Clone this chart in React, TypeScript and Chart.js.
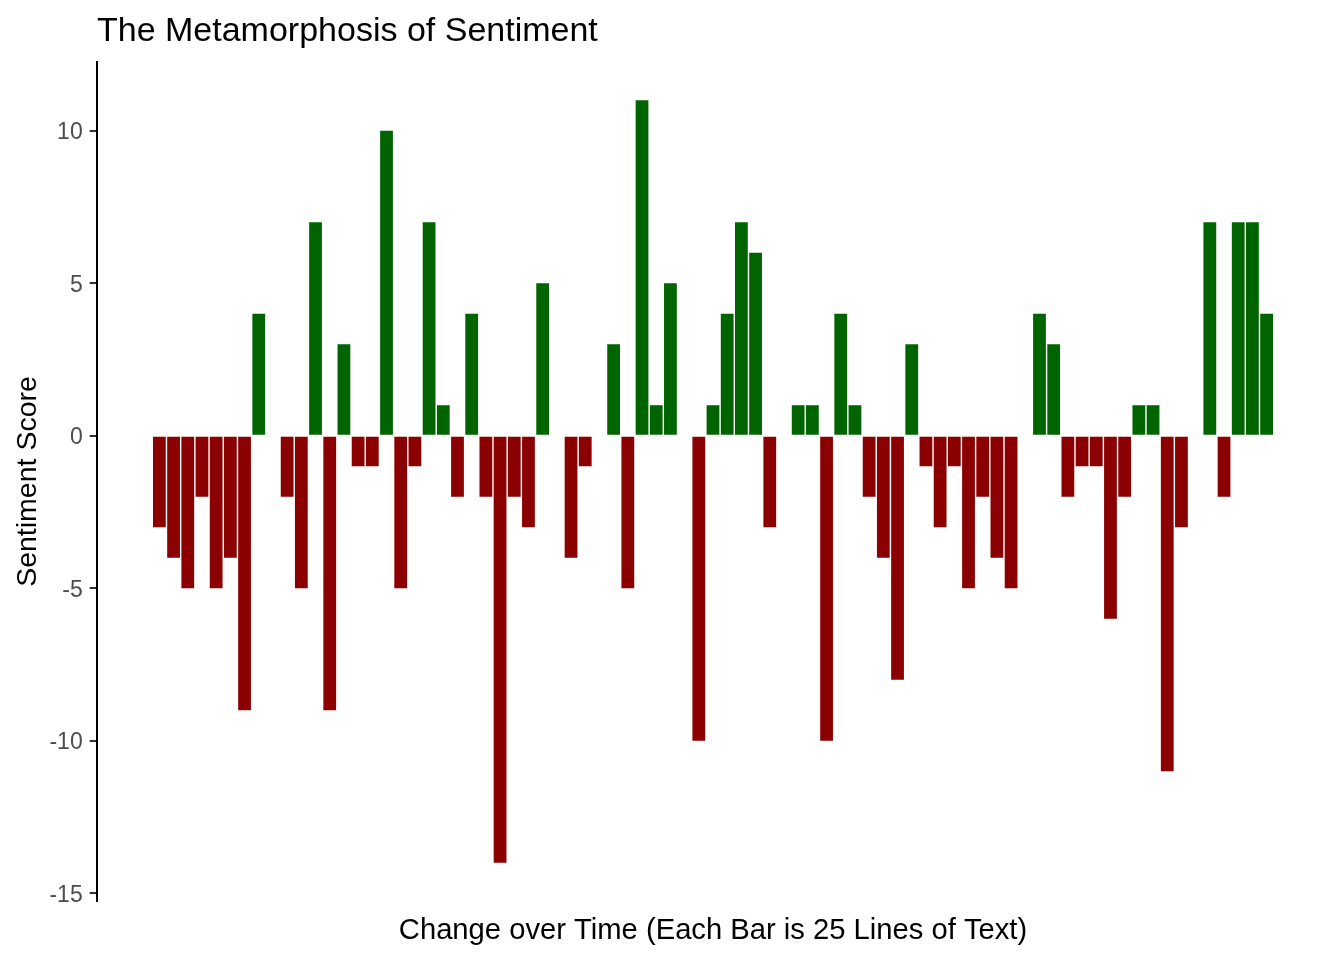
import React, { useEffect, useRef } from "react";
import { Chart, registerables } from "chart.js";

Chart.register(...registerables);

const chartTitle = "The Metamorphosis of Sentiment";
const xAxisTitle = "Change over Time (Each Bar is 25 Lines of Text)";
const yAxisTitle = "Sentiment Score";

// Sentiment score per chunk (each bar = 25 lines of text), in order
const sentimentScores: number[] = [
  -3, -4, -5, -2, -5, -4, -9, 4, 0, -2,
  -5, 7, -9, 3, -1, -1, 10, -5, -1, 7,
  1, -2, 4, -2, -14, -2, -3, 5, 0, -4,
  -1, 0, 3, -5, 11, 1, 5, 0, -10, 1,
  4, 7, 6, -3, 0, 1, 1, -10, 4, 1,
  -2, -4, -8, 3, -1, -3, -1, -5, -2, -4,
  -5, 0, 4, 3, -2, -1, -1, -6, -2, 1,
  1, -11, -3, 0, 7, -2, 7, 7, 4,
];
const chunkIndex: number[] = sentimentScores.map((_, i) => i + 1);
const yTickValues: number[] = [-15, -10, -5, 0, 5, 10];

const POS_COLOR = "#006400";
const NEG_COLOR = "#8B0000";
const FONT = "'Liberation Sans', Arial, sans-serif";

export default function App() {
  const canvasRef = useRef<HTMLCanvasElement | null>(null);

  useEffect(() => {
    const canvas = canvasRef.current;
    if (!canvas) return;

    const n = sentimentScores.length;
    const lo = 1 - 0.45;
    const hi = n + 0.45;
    const ex = (hi - lo) * 0.05;
    const yMinData = Math.min(...sentimentScores);
    const yMaxData = Math.max(...sentimentScores);
    const yex = (yMaxData - yMinData) * 0.05;

    const chart = new Chart(canvas, {
      type: "bar",
      data: {
        datasets: [
          {
            data: chunkIndex.map((x, i) => ({ x, y: sentimentScores[i] })),
            backgroundColor: sentimentScores.map((v) => (v >= 0 ? POS_COLOR : NEG_COLOR)),
            borderWidth: 0,
            barPercentage: 0.9,
            categoryPercentage: 1.0,
          },
        ],
      },
      options: {
        responsive: false,
        devicePixelRatio: 1,
        animation: false,
        layout: { padding: { left: 0, right: 15, top: 0, bottom: 0 } },
        plugins: {
          legend: { display: false },
          tooltip: { enabled: false },
          title: {
            display: true,
            text: chartTitle,
            align: "start",
            fullSize: false,
            color: "#000000",
            font: { family: FONT, size: 34, weight: "normal" },
            padding: { top: 11, bottom: 10.2 },
          },
        },
        scales: {
          x: {
            type: "linear",
            offset: false,
            min: lo - ex,
            max: hi + ex,
            ticks: { display: false },
            grid: { display: false },
            border: { display: false },
            afterFit: (s: any) => {
              s.height = 59;
            },
            title: {
              display: true,
              text: xAxisTitle,
              color: "#000000",
              font: { family: FONT, size: 29.2 },
              padding: { top: 0, bottom: 11.8 },
            },
          },
          y: {
            min: yMinData - yex,
            max: yMaxData + yex,
            afterBuildTicks: (s: any) => {
              s.ticks = yTickValues.map((v) => ({ value: v }));
            },
            afterFit: (s: any) => {
              s.width = 97;
            },
            ticks: {
              color: "#4D4D4D",
              font: { family: FONT, size: 23 },
              padding: 7,
              labelOffset: 2,
              callback: (v: any) => String(v),
            },
            grid: {
              display: true,
              drawOnChartArea: false,
              drawTicks: true,
              tickLength: 7.3,
              color: "#333333",
              lineWidth: 2,
            },
            border: { display: true, color: "#000000", width: 2 },
            title: {
              display: true,
              text: yAxisTitle,
              color: "#000000",
              font: { family: FONT, size: 28.5 },
              padding: { top: 11, bottom: 0 },
            },
          },
        },
      },
    });

    return () => {
      chart.destroy();
    };
  }, []);

  return (
    <div style={{ position: "absolute", left: 0, top: 0, width: 1344, height: 960, background: "#ffffff" }}>
      <canvas ref={canvasRef} width={1344} height={960} style={{ display: "block" }} />
    </div>
  );
}
